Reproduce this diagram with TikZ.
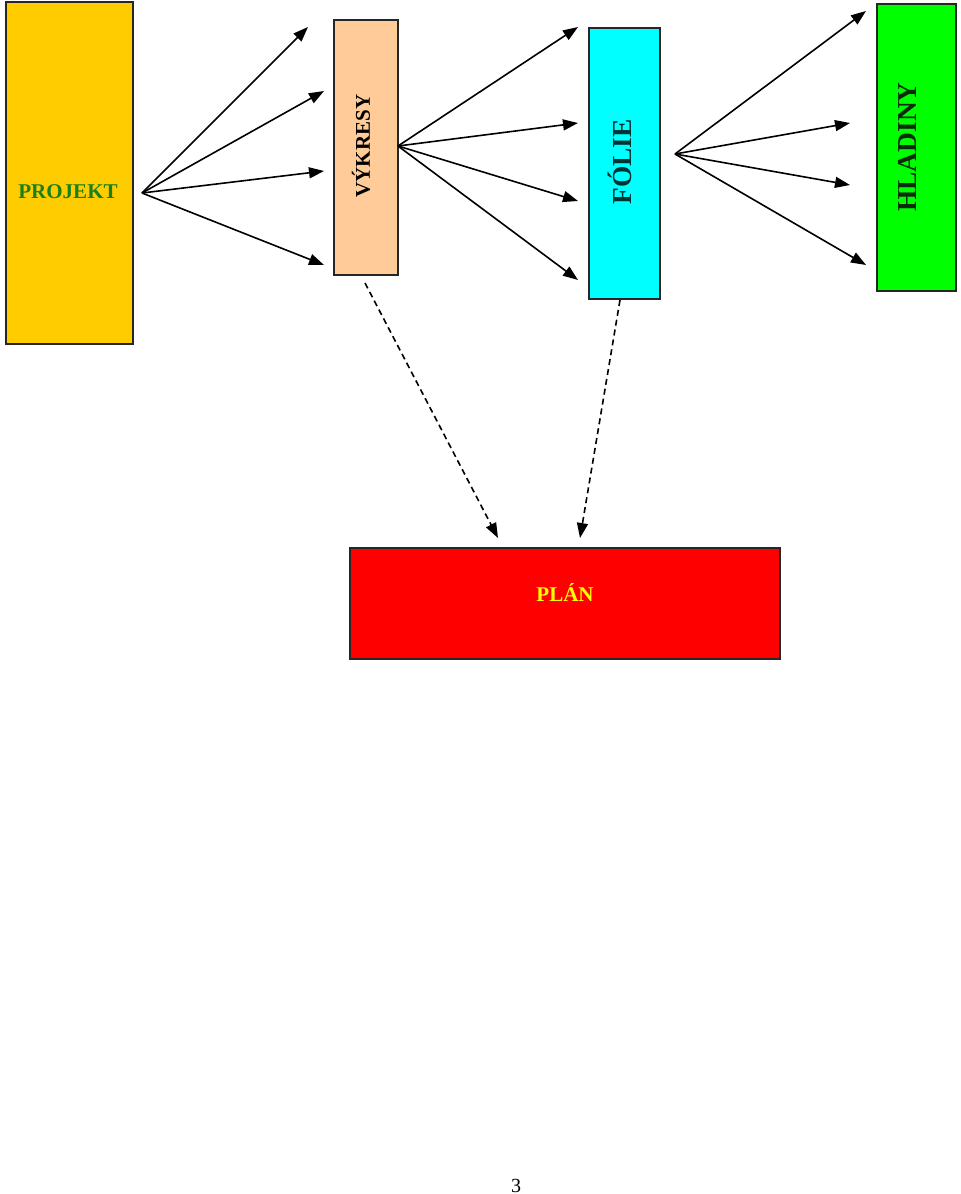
\documentclass[tikz,border=0pt]{standalone}
\usepackage{fontspec}
\setmainfont{Liberation Serif}
\usetikzlibrary{arrows.meta}
\definecolor{cProj}{HTML}{FFCC00}
\definecolor{cVyk}{HTML}{FFCC99}
\definecolor{cFol}{HTML}{00FFFF}
\definecolor{cHla}{HTML}{00FF00}
\definecolor{cPlan}{HTML}{FF0000}
\definecolor{tProj}{HTML}{1A801A}
\definecolor{tFol}{HTML}{003333}
\definecolor{tHla}{HTML}{0A2A0A}
\definecolor{tPlan}{HTML}{FFFF00}
\tikzset{
  box/.style={draw=black!85, line width=0.75pt, inner sep=0pt, anchor=north west},
  lbl/.style={font=\bfseries, inner sep=0pt},
  arr/.style={line width=0.8pt, -{Triangle[length=7.5pt,width=5.5pt]}},
  darr/.style={arr, dash pattern=on 3pt off 2pt},
}
\begin{document}
\begin{tikzpicture}[x=0.5pt, y=-0.5pt]
\useasboundingbox (0,0) rectangle (960,1194);
% boxes
\node[box, fill=cProj, minimum width=63.5pt, minimum height=171pt] (proj) at (5,1) {};
\node[box, fill=cVyk, minimum width=32pt, minimum height=127.5pt] (vyk) at (333,19) {};
\node[box, fill=cFol, minimum width=35.5pt, minimum height=135.5pt] (fol) at (588,27) {};
\node[box, fill=cHla, minimum width=39.5pt, minimum height=143.5pt] (hla) at (876,3) {};
\node[box, fill=cPlan, minimum width=215pt, minimum height=55.5pt] (plan) at (349,547) {};
% labels
\node[lbl, text=tProj, font=\fontsize{10.5}{12}\selectfont\bfseries] (tproj) at (68,192) {PROJEKT};
\node[lbl, rotate=90, font=\fontsize{10.5}{12}\selectfont\bfseries] (tvyk) at (361,146) {VÝKRESY};
\node[lbl, rotate=90, text=tFol, font=\fontsize{13.7}{16}\selectfont\bfseries] (tfol) at (620,162) {FÓLIE};
\node[lbl, rotate=90, text=tHla, font=\fontsize{13.7}{16}\selectfont\bfseries] (thla) at (907,147) {HLADINY};
\node[lbl, text=tPlan, font=\fontsize{10.5}{12}\selectfont\bfseries] (tplan) at (565,592) {PLÁN};
\node[inner sep=0pt, font=\fontsize{10}{12}\selectfont] (page) at (516,1186) {3};
% sources and targets
\coordinate (sP) at (142,193);
\coordinate (p1) at (308,27);
\coordinate (p2) at (324,91);
\coordinate (p3) at (324,171);
\coordinate (p4) at (324,265);
\coordinate (sV) at (398,146);
\coordinate (v1) at (578,27);
\coordinate (v2) at (578,123);
\coordinate (v3) at (578,201);
\coordinate (v4) at (578,280);
\coordinate (sF) at (675,154);
\coordinate (f1) at (866,11);
\coordinate (f2) at (850,123);
\coordinate (f3) at (850,185);
\coordinate (f4) at (866,265);
\coordinate (dA0) at (365,283);
\coordinate (dA1) at (498,538);
\coordinate (dB0) at (620,300);
\coordinate (dB1) at (580,538);
% arrows
\foreach \t in {p1,p2,p3,p4} \draw[arr] (sP) -- (\t);
\foreach \t in {v1,v2,v3,v4} \draw[arr] (sV) -- (\t);
\foreach \t in {f1,f2,f3,f4} \draw[arr] (sF) -- (\t);
\draw[darr] (dA0) -- (dA1);
\draw[darr] (dB0) -- (dB1);
\end{tikzpicture}
\end{document}
